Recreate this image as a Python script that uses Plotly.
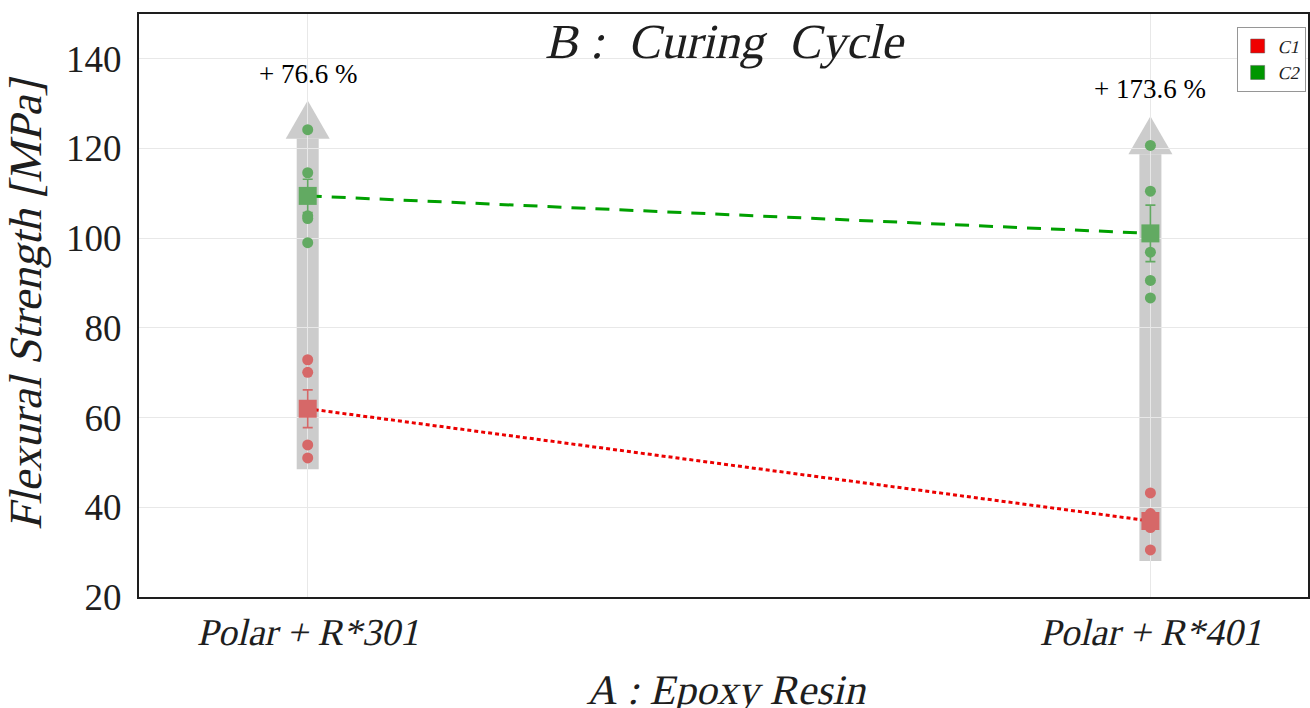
import plotly.graph_objects as go

# Epoxy resin levels (factor A) placed at x = 1, 2
resin_labels = ["<i>Polar</i> + <i>R</i>*301", "<i>Polar</i> + <i>R</i>*401"]
resin_x = [1, 2]

# Individual flexural strength measurements [MPa] per curing cycle (factor B)
c1_polar301 = [72.9, 70.1, 53.9, 51.0]
c1_polar401 = [43.2, 38.6, 35.5, 30.5]
c2_polar301 = [124.2, 114.6, 105.0, 104.4, 99.0]
c2_polar401 = [120.7, 110.5, 96.9, 90.6, 86.7]

# Error bar half-widths of the means
c1_err = [4.2, 1.0]
c2_err = [3.7, 6.3]

y_ticks = [20, 40, 60, 80, 100, 120, 140]

SERIF = "Liberation Serif"
INK = "rgb(30,30,30)"
dot_red = "rgb(214,104,104)"
dot_green = "rgb(98,170,98)"
shaft_gray = "rgb(204,204,204)"


def mean(v):
    return sum(v) / len(v)


c1_groups = [c1_polar301, c1_polar401]
c2_groups = [c2_polar301, c2_polar401]
c1_means = [mean(g) for g in c1_groups]
c2_means = [mean(g) for g in c2_groups]

fig = go.Figure()

# Gray arrows spanning all measurements of each resin
shapes = []
annotations = []
for xi, g1, g2, m1, m2 in zip(resin_x, c1_groups, c2_groups, c1_means, c2_means):
    lo = min(g1 + g2)
    hi = max(g1 + g2)
    base = hi - 2.0
    tip = hi + 6.5
    shapes.append(dict(type="rect", layer="below", xref="x", yref="y",
                       xsizemode="pixel", xanchor=xi, x0=-11, x1=11,
                       y0=lo - 2.5, y1=base, fillcolor=shaft_gray,
                       line=dict(width=0)))
    shapes.append(dict(type="path", layer="below", xref="x", yref="y",
                       xsizemode="pixel", xanchor=xi,
                       path=f"M -22,{base} L 0,{tip} L 22,{base} Z",
                       fillcolor=shaft_gray, line=dict(width=0)))
    gain = (m2 - m1) / m1 * 100
    annotations.append(dict(x=xi, y=tip, xref="x", yref="y", yanchor="bottom",
                            yshift=10, showarrow=False,
                            text=f"+ {gain:.1f} %",
                            font=dict(family=SERIF, size=27, color="black")))

# Interaction lines through the means
fig.add_trace(go.Scatter(x=resin_x, y=c2_means, mode="lines", showlegend=False,
                         line=dict(color="rgb(0,160,0)", width=3, dash="14px,10px"),
                         hoverinfo="skip"))
fig.add_trace(go.Scatter(x=resin_x, y=c1_means, mode="lines", showlegend=False,
                         line=dict(color="rgb(235,0,0)", width=3, dash="4px,3px"),
                         hoverinfo="skip"))

# Individual measurements
for groups, col in [(c1_groups, dot_red), (c2_groups, dot_green)]:
    xs, ys = [], []
    for xi, g in zip(resin_x, groups):
        xs += [xi] * len(g)
        ys += g
    fig.add_trace(go.Scatter(x=xs, y=ys, mode="markers", showlegend=False,
                             marker=dict(color=col, size=11, line=dict(width=0)),
                             hoverinfo="skip"))

# Means with error bars
for means, err, col in [(c1_means, c1_err, dot_red), (c2_means, c2_err, dot_green)]:
    fig.add_trace(go.Scatter(x=resin_x, y=means, mode="markers", showlegend=False,
                             marker=dict(color=col, size=18, symbol="square",
                                         line=dict(width=0)),
                             error_y=dict(type="data", array=err, color=col,
                                          thickness=1.6, width=5),
                             hoverinfo="skip"))

# Legend entries for the curing cycles
fig.add_trace(go.Scatter(x=[None], y=[None], mode="markers", name="<i>C</i>1",
                         marker=dict(color="rgb(240,0,0)", symbol="square", size=14,
                                     line=dict(color="rgb(90,90,90)", width=0.5))))
fig.add_trace(go.Scatter(x=[None], y=[None], mode="markers", name="<i>C</i>2",
                         marker=dict(color="rgb(0,150,0)", symbol="square", size=14,
                                     line=dict(color="rgb(90,90,90)", width=0.5))))

# Chart title inside the plot area and the factor-A axis title
annotations.append(dict(x=0.5, y=1, xref="paper", yref="paper", yanchor="top",
                        yshift=2, showarrow=False,
                        text="<i>B</i> :  <i>Curing  Cycle</i>",
                        font=dict(family=SERIF, size=49, color=INK)))
annotations.append(dict(x=0.5, y=0, xref="paper", yref="paper", yanchor="middle",
                        yshift=-93, showarrow=False,
                        text="<i>A</i> : <i>Epoxy Resin</i>",
                        font=dict(family=SERIF, size=42, color=INK)))

fig.update_layout(
    width=1310, height=708,
    margin=dict(l=139, r=0, t=14, b=111),
    paper_bgcolor="white", plot_bgcolor="white",
    shapes=shapes, annotations=annotations,
    legend=dict(x=0.998, y=0.978, xanchor="right", yanchor="top",
                bgcolor="white", bordercolor="rgb(150,150,150)", borderwidth=1,
                font=dict(family=SERIF, size=18, color=INK),
                tracegroupgap=0, itemwidth=30),
    font=dict(family=SERIF, color=INK),
)

fig.update_xaxes(range=[0.7998, 2.187], tickvals=resin_x, ticktext=resin_labels,
                 showgrid=True, gridcolor="rgb(232,232,232)", gridwidth=1,
                 zeroline=False, showline=True, linecolor=INK,
                 linewidth=2, mirror=True, ticks="", ticklabelstandoff=0,
                 tickfont=dict(family=SERIF, size=38, color=INK))
fig.update_yaxes(range=[20, 150], tickvals=y_ticks,
                 showgrid=True, gridcolor="rgb(232,232,232)", gridwidth=1,
                 zeroline=False, showline=True, linecolor=INK,
                 linewidth=2, mirror=True, ticks="", ticklabelstandoff=8,
                 tickfont=dict(family=SERIF, size=37, color=INK),
                 title=dict(text="<i>Flexural Strength</i> [<i>MPa</i>]",
                            font=dict(family=SERIF, size=46, color=INK),
                            standoff=10))

# Italic runs are drawn as slanted upright serif glyphs
slant_js = """
var gd = document.getElementById('{plot_id}');
function slantItalics() {
  gd.querySelectorAll('text').forEach(function (t) {
    var italic = false;
    t.querySelectorAll('tspan').forEach(function (s) {
      if (s.style.fontStyle === 'italic') { italic = true; s.style.fontStyle = 'normal'; }
    });
    var cur = t.getAttribute('transform') || '';
    if (t.dataset.slant !== undefined && cur === t.dataset.slant) { return; }
    if (!italic && t.dataset.slant === undefined) { return; }
    var x = parseFloat(t.getAttribute('x')) || 0;
    var y = parseFloat(t.getAttribute('y')) || 0;
    var tr = cur + ' translate(' + x + ',' + y + ') skewX(-13) translate(' + (-x) + ',' + (-y) + ')';
    t.setAttribute('transform', tr);
    t.dataset.slant = tr;
  });
}
slantItalics();
gd.on('plotly_afterplot', slantItalics);
"""

fig.write_html("out.html", post_script=slant_js)
